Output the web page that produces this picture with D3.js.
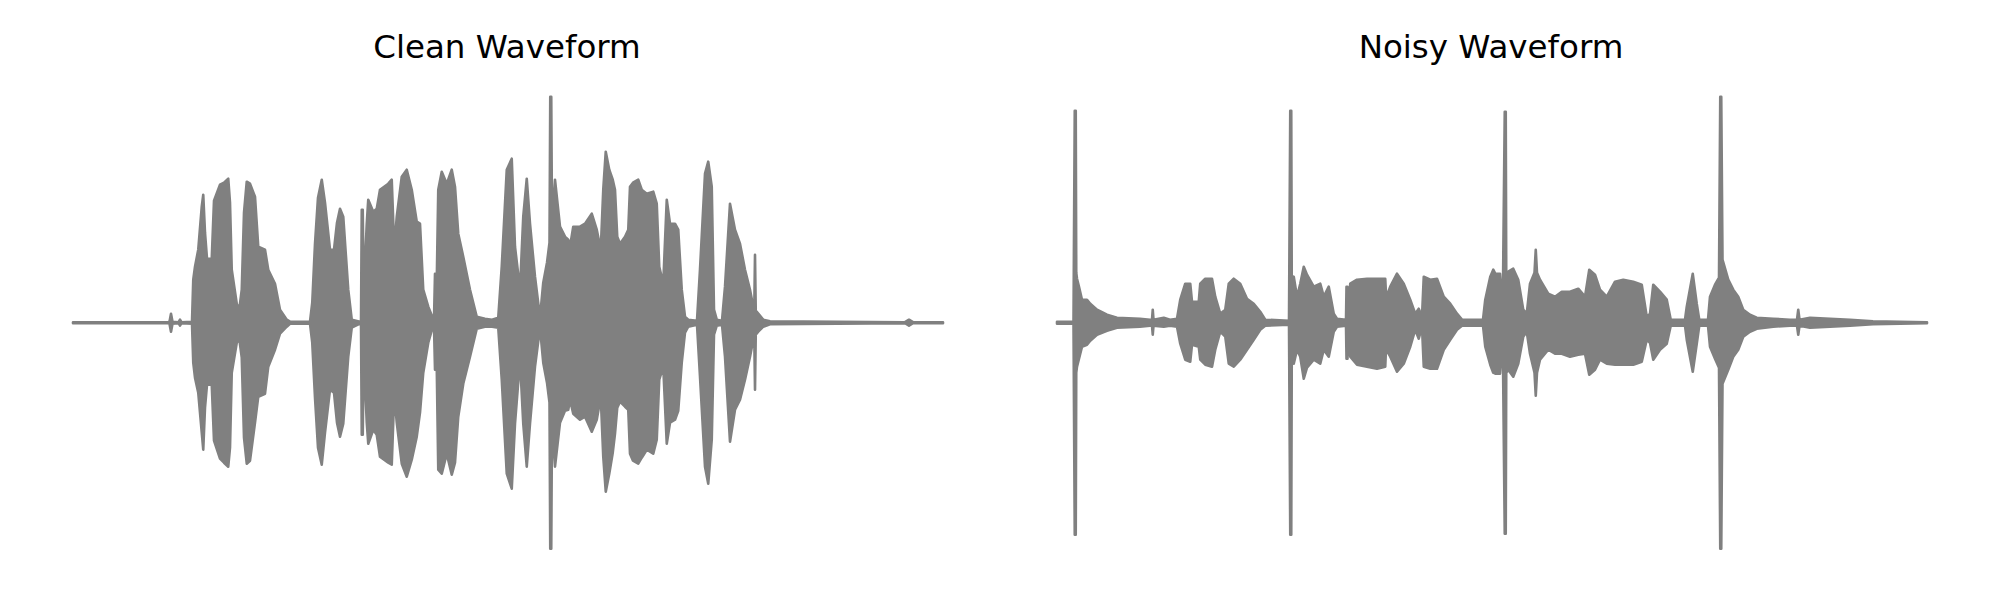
<!DOCTYPE html>
<html>
<head>
<meta charset="utf-8">
<script src="https://cdn.jsdelivr.net/npm/d3@7"></script>
<style>
  html, body { margin: 0; padding: 0; background: #ffffff; }
  svg { display: block; }
</style>
</head>
<body>
<svg id="chart" width="2000" height="600"></svg>
<script>
// ---------------- DATA (time in seconds, amplitude normalised) ----------------
const titles = ["Clean Waveform", "Noisy Waveform"];
const duration = 3.48;

// Clean waveform envelope: time, max amplitude, min amplitude
const cleanTime = [0,0.38,0.386,0.392,0.398,0.422,0.428,0.434,0.476,0.481,0.488,0.501,0.515,0.521,0.528,0.536,0.555,0.564,0.588,0.604,0.621,0.628,0.635,0.655,0.665,0.675,0.684,0.695,0.708,0.728,0.741,0.768,0.781,0.808,0.828,0.855,0.868,0.948,0.957,0.968,0.980,0.995,1.008,1.028,1.044,1.056,1.068,1.081,1.101,1.115,1.148,1.152,1.155,1.159,1.163,1.175,1.181,1.201,1.215,1.228,1.261,1.275,1.285,1.295,1.315,1.335,1.355,1.375,1.388,1.401,1.421,1.437,1.444,1.448,1.453,1.461,1.475,1.495,1.515,1.528,1.541,1.561,1.588,1.615,1.648,1.676,1.701,1.715,1.735,1.755,1.768,1.788,1.801,1.815,1.828,1.848,1.868,1.881,1.896,1.906,1.909,1.913,1.916,1.928,1.948,1.968,1.981,1.988,2.001,2.028,2.048,2.075,2.095,2.111,2.121,2.131,2.145,2.159,2.168,2.177,2.188,2.208,2.221,2.228,2.240,2.261,2.275,2.295,2.321,2.335,2.345,2.361,2.375,2.388,2.408,2.421,2.435,2.448,2.461,2.496,2.508,2.528,2.541,2.555,2.564,2.575,2.596,2.608,2.628,2.648,2.668,2.688,2.708,2.721,2.725,2.728,2.731,2.741,2.761,2.788,3.328,3.344,3.360,3.48];
const cleanMax = [0.002,0.002,0.004,0.036,0.004,0.002,0.012,0.002,0.004,0.172,0.224,0.292,0.464,0.512,0.36,0.256,0.256,0.488,0.552,0.56,0.576,0.48,0.212,0.076,0.052,0.132,0.44,0.564,0.556,0.504,0.304,0.292,0.212,0.156,0.052,0.012,0.004,0.004,0.08,0.316,0.5,0.572,0.48,0.292,0.292,0.4,0.456,0.424,0.132,0.012,0.004,0.004,0.452,0.452,0.12,0.396,0.492,0.444,0.456,0.532,0.556,0.572,0.292,0.424,0.584,0.612,0.532,0.404,0.396,0.132,0.064,0.024,0.012,0.196,0.04,0.532,0.604,0.556,0.612,0.544,0.356,0.264,0.132,0.024,0.016,0.012,0.02,0.224,0.612,0.656,0.304,0.132,0.424,0.576,0.396,0.184,0.02,0.16,0.24,0.32,0.904,0.904,0.4,0.572,0.384,0.344,0.332,0.304,0.384,0.384,0.396,0.436,0.372,0.292,0.532,0.684,0.612,0.572,0.532,0.344,0.316,0.344,0.372,0.544,0.56,0.572,0.532,0.516,0.524,0.476,0.224,0.156,0.492,0.396,0.396,0.372,0.132,0.024,0.012,0.008,0.212,0.596,0.644,0.544,0.052,0.012,0.008,0.144,0.476,0.372,0.316,0.212,0.132,0.064,0.048,0.272,0.048,0.036,0.012,0.006,0.002,0.012,0.002,0.002];
const cleanMin = [-0.002,-0.002,-0.004,-0.036,-0.004,-0.002,-0.012,-0.002,-0.004,-0.16,-0.22,-0.28,-0.44,-0.508,-0.34,-0.248,-0.248,-0.472,-0.544,-0.56,-0.576,-0.5,-0.2,-0.08,-0.064,-0.14,-0.46,-0.564,-0.552,-0.4,-0.296,-0.284,-0.176,-0.108,-0.044,-0.016,-0.004,-0.004,-0.08,-0.3,-0.5,-0.568,-0.44,-0.268,-0.28,-0.4,-0.456,-0.404,-0.136,-0.02,-0.004,-0.004,-0.448,-0.448,-0.12,-0.4,-0.484,-0.428,-0.448,-0.536,-0.56,-0.568,-0.284,-0.4,-0.564,-0.616,-0.548,-0.456,-0.36,-0.2,-0.08,-0.024,-0.012,-0.188,-0.04,-0.588,-0.604,-0.524,-0.608,-0.56,-0.376,-0.244,-0.136,-0.024,-0.016,-0.016,-0.02,-0.228,-0.604,-0.664,-0.404,-0.148,-0.404,-0.576,-0.404,-0.176,-0.02,-0.16,-0.24,-0.32,-0.904,-0.904,-0.4,-0.576,-0.4,-0.352,-0.348,-0.308,-0.364,-0.388,-0.376,-0.436,-0.388,-0.296,-0.536,-0.676,-0.604,-0.52,-0.444,-0.34,-0.316,-0.336,-0.348,-0.524,-0.552,-0.564,-0.54,-0.508,-0.524,-0.468,-0.228,-0.176,-0.484,-0.4,-0.388,-0.352,-0.16,-0.04,-0.016,-0.008,-0.216,-0.576,-0.644,-0.468,-0.048,-0.012,-0.008,-0.136,-0.476,-0.348,-0.308,-0.228,-0.136,-0.068,-0.048,-0.268,-0.048,-0.036,-0.016,-0.006,-0.002,-0.012,-0.002,-0.002];

// Noisy waveform envelope: time, max amplitude, min amplitude
const noisyTime = [0,0.066,0.071,0.075,0.077,0.08,0.088,0.1,0.12,0.133,0.16,0.2,0.24,0.332,0.372,0.38,0.383,0.386,0.427,0.452,0.48,0.493,0.513,0.533,0.54,0.567,0.573,0.593,0.62,0.633,0.653,0.673,0.687,0.707,0.733,0.76,0.787,0.813,0.833,0.928,0.933,0.937,0.939,0.947,0.96,0.973,0.987,1.0,1.027,1.053,1.067,1.087,1.107,1.12,1.156,1.158,1.162,1.164,1.173,1.2,1.24,1.28,1.313,1.319,1.324,1.333,1.36,1.387,1.413,1.433,1.447,1.46,1.467,1.493,1.52,1.547,1.573,1.6,1.62,1.704,1.713,1.733,1.745,1.753,1.772,1.783,1.791,1.795,1.797,1.805,1.825,1.845,1.865,1.879,1.892,1.91,1.915,1.92,1.932,1.965,1.992,2.019,2.052,2.085,2.112,2.129,2.152,2.172,2.199,2.232,2.265,2.305,2.339,2.359,2.372,2.385,2.412,2.439,2.455,2.512,2.519,2.543,2.559,2.569,2.604,2.612,2.632,2.648,2.653,2.657,2.662,2.685,2.705,2.725,2.745,2.772,2.799,2.865,2.932,2.96,2.965,2.97,3.012,3.092,3.172,3.264,3.48];
const noisyMax = [0.004,0.004,0.848,0.848,0.2,0.176,0.144,0.092,0.092,0.076,0.052,0.032,0.02,0.016,0.012,0.012,0.052,0.012,0.02,0.012,0.016,0.092,0.156,0.156,0.084,0.084,0.156,0.176,0.176,0.104,0.036,0.052,0.156,0.176,0.156,0.096,0.076,0.044,0.012,0.008,0.848,0.848,0.16,0.184,0.104,0.156,0.224,0.192,0.144,0.156,0.104,0.144,0.036,0.016,0.012,0.144,0.144,0.016,0.156,0.172,0.176,0.176,0.176,0.052,0.12,0.144,0.196,0.156,0.092,0.036,0.056,0.024,0.184,0.172,0.176,0.104,0.076,0.036,0.012,0.012,0.092,0.184,0.212,0.196,0.196,0.052,0.844,0.844,0.2,0.204,0.216,0.172,0.052,0.036,0.156,0.2,0.292,0.2,0.172,0.116,0.104,0.124,0.124,0.136,0.104,0.212,0.192,0.132,0.104,0.164,0.172,0.164,0.152,0.024,0.036,0.152,0.124,0.092,0.012,0.012,0.064,0.196,0.076,0.012,0.012,0.104,0.152,0.18,0.904,0.904,0.252,0.172,0.132,0.104,0.052,0.032,0.02,0.016,0.012,0.012,0.052,0.012,0.02,0.016,0.012,0.006,0.002];
const noisyMin = [-0.004,-0.004,-0.848,-0.848,-0.2,-0.176,-0.144,-0.096,-0.088,-0.072,-0.048,-0.032,-0.02,-0.016,-0.012,-0.012,-0.048,-0.012,-0.016,-0.012,-0.016,-0.084,-0.148,-0.156,-0.088,-0.096,-0.148,-0.168,-0.176,-0.108,-0.036,-0.056,-0.164,-0.176,-0.148,-0.108,-0.068,-0.028,-0.012,-0.008,-0.848,-0.848,-0.16,-0.164,-0.108,-0.136,-0.224,-0.18,-0.148,-0.164,-0.108,-0.136,-0.036,-0.016,-0.012,-0.144,-0.144,-0.016,-0.136,-0.168,-0.176,-0.184,-0.176,-0.032,-0.12,-0.136,-0.196,-0.164,-0.096,-0.028,-0.064,-0.016,-0.176,-0.184,-0.184,-0.108,-0.068,-0.028,-0.012,-0.012,-0.096,-0.168,-0.2,-0.204,-0.204,-0.056,-0.844,-0.844,-0.2,-0.188,-0.216,-0.164,-0.056,-0.036,-0.124,-0.2,-0.292,-0.2,-0.148,-0.108,-0.124,-0.124,-0.136,-0.128,-0.124,-0.208,-0.188,-0.148,-0.164,-0.168,-0.168,-0.168,-0.156,-0.068,-0.08,-0.148,-0.108,-0.084,-0.012,-0.012,-0.068,-0.196,-0.084,-0.012,-0.012,-0.096,-0.144,-0.18,-0.904,-0.904,-0.244,-0.188,-0.136,-0.108,-0.056,-0.036,-0.024,-0.016,-0.012,-0.012,-0.048,-0.012,-0.02,-0.016,-0.012,-0.006,-0.002];

// ---------------- LAYOUT ----------------
const svg = d3.select("#chart");
const centerY = 322.7;
const halfH = 250;       // pixels for amplitude 1.0
const panels = [
  { title: titles[0], left: 73,   width: 870, t: cleanTime, hi: cleanMax, lo: cleanMin },
  { title: titles[1], left: 1057, width: 870, t: noisyTime, hi: noisyMax, lo: noisyMin }
];
const color = "#808080";

const y = d3.scaleLinear().domain([-1, 1]).range([centerY + halfH, centerY - halfH]);

panels.forEach(p => {
  const x = d3.scaleLinear().domain([0, duration]).range([p.left, p.left + p.width]);
  const data = p.t.map((t, i) => ({ t, hi: p.hi[i], lo: p.lo[i] }));
  const area = d3.area()
    .x(d => x(d.t))
    .y0(d => y(d.lo))
    .y1(d => y(d.hi))
    .curve(d3.curveLinear);
  const g = svg.append("g");
  g.append("path")
    .datum(data)
    .attr("d", area)
    .attr("fill", color)
    .attr("stroke", color)
    .attr("stroke-width", 2.6)
    .attr("stroke-linejoin", "round")
    .attr("stroke-linecap", "round");

  g.append("text")
    .attr("x", p.left + p.width / 2 - 1)
    .attr("y", 57.5)
    .attr("text-anchor", "middle")
    .attr("font-family", "DejaVu Sans, sans-serif")
    .attr("font-size", 32.5)
    .attr("fill", "#000")
    .text(p.title);
});
</script>
</body>
</html>
